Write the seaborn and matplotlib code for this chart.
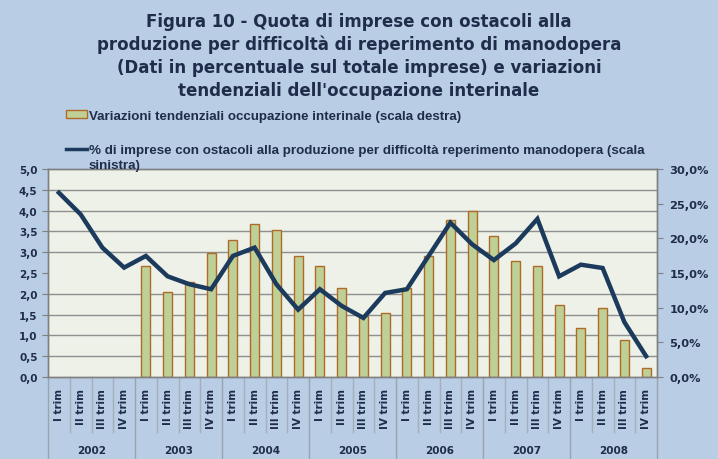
import numpy as np
import pandas as pd
import matplotlib
matplotlib.use("Agg")
import matplotlib.pyplot as plt
import matplotlib.lines as mlines
import matplotlib.patches as mpatches
import seaborn as sns

anni = ['2002', '2003', '2004', '2005', '2006', '2007', '2008']
trimestri = ['I trim', 'II trim', 'III trim', 'IV trim']

# % imprese con ostacoli (scala sinistra), 2002 Q1 -> 2008 Q4
quota_imprese = [4.43, 3.91, 3.11, 2.63,
                 2.91, 2.42, 2.23, 2.11,
                 2.91, 3.11, 2.23, 1.62,
                 2.11, 1.71, 1.42, 2.02,
                 2.11, 2.91, 3.71, 3.19,
                 2.81, 3.21, 3.80, 2.42,
                 2.70, 2.62, 1.32, 0.50]

# variazioni tendenziali occupazione interinale (scala destra), dal 2003 Q1
var_interinale = [16.0, 12.3, 13.7, 17.9,
                  19.7, 22.1, 21.2, 17.4,
                  16.0, 12.8, 8.8, 9.3,
                  12.9, 17.5, 22.6, 23.9,
                  20.4, 16.7, 16.0, 10.4,
                  7.0, 9.9, 5.3, 1.3]

categorie = [a + ' ' + t for a in anni for t in trimestri]
df_barre = pd.DataFrame({'periodo': categorie[4:], 'var': var_interinale})

sfondo = '#B9CDE5'
area = '#EDF1E7'
blu = '#1B3A5C'
testo = '#1F2D4A'

fig = plt.figure(figsize=(7.18, 4.6), dpi=100, facecolor=sfondo)
ax = fig.add_axes([48 / 718, 1 - 378 / 460, (657 - 48) / 718, 208 / 460])
ax2 = ax.twinx()

# barre sulla scala destra, disegnate sotto la linea
ax2.set_zorder(0)
ax.set_zorder(1)
ax.patch.set_visible(False)
ax2.patch.set_visible(True)
ax2.patch.set_facecolor(area)

sns.barplot(data=df_barre, x='periodo', y='var', order=categorie, ax=ax2,
            color='#BFD096', edgecolor='#B06A28', linewidth=1, width=0.42,
            saturation=1, zorder=2)
ax2.set_ylim(0, 30)
ax2.set_yticks(np.arange(0, 31, 5))
ax2.set_yticklabels([f'{v:.1f}%'.replace('.', ',') for v in np.arange(0, 31, 5)])
ax2.set_yticks(np.arange(0, 31, 3), minor=True)
ax2.grid(which='minor', axis='y', color='#8F8F8F', linewidth=1, zorder=0)
ax2.grid(which='major', visible=False)
ax2.tick_params(axis='y', which='minor', length=0)
ax2.set_ylabel('')
ax2.set_xlabel('')

sns.lineplot(x=np.arange(len(quota_imprese)), y=quota_imprese, ax=ax,
             color=blu, linewidth=3.2, solid_joinstyle='miter')
ax.set_ylim(0, 5)
ax.set_yticks(np.arange(0, 5.01, 0.5))
ax.set_yticklabels([f'{v:.1f}'.replace('.', ',') for v in np.arange(0, 5.01, 0.5)])
ax.set_xlim(-0.5, len(categorie) - 0.5)

for a in (ax, ax2):
    for s in a.spines.values():
        s.set_color('#808080')
        s.set_linewidth(1)
    a.tick_params(axis='y', which='major', labelsize=7.5, labelcolor=testo,
                  color='#808080', length=4)
    for lab in a.get_yticklabels():
        lab.set_fontweight('bold')
ax2.tick_params(axis='y', which='major', labelsize=8.2, pad=5)

# etichette asse x: trimestri e anni
ax.set_xticks(np.arange(len(categorie)))
ax.set_xticklabels(trimestri * len(anni), rotation=90, fontsize=7.5,
                   fontweight='bold', color=testo, va='top', ha='center')
ax.tick_params(axis='x', length=0, pad=8)
ax2.tick_params(axis='x', length=0, labelbottom=False)

tr = ax.get_xaxis_transform()
for k in range(len(categorie) + 1):
    fondo = -0.395 if k % 4 == 0 else -0.265
    colore = '#9AA3B0' if k % 4 == 0 else '#A5AEBB'
    ax.add_line(mlines.Line2D([k - 0.5, k - 0.5], [0, fondo], transform=tr,
                              color=colore, linewidth=1, clip_on=False))
for i, anno in enumerate(anni):
    ax.text(i * 4 + 1.5, -0.35, anno, transform=tr, ha='center', va='center',
            fontsize=7.5, fontweight='bold', color=testo)

# titolo
fig.text(0.5, 1 - 13 / 460,
         "Figura 10 - Quota di imprese con ostacoli alla\n"
         "produzione per difficoltà di reperimento di manodopera\n"
         "(Dati in percentuale sul totale imprese) e variazioni\n"
         "tendenziali dell'occupazione interinale",
         ha='center', va='top', fontsize=12, fontweight='bold', color=testo,
         linespacing=1.34, family='DejaVu Sans')

# legenda
patch = mpatches.Patch(facecolor='#BFD096', edgecolor='#B06A28',
                       label='Variazioni tendenziali occupazione interinale (scala destra)')
linea = mlines.Line2D([], [], color=blu, linewidth=2.5,
                      label='% di imprese con ostacoli alla produzione per difficoltà reperimento manodopera (scala')
prop = {'family': 'Liberation Sans', 'weight': 'bold', 'size': 9.6}
fig.legend(handles=[patch], loc='center left', bbox_to_anchor=(66 / 718, 1 - 117 / 460),
           frameon=False, prop=prop, handlelength=1.6, handleheight=0.5, handletextpad=0.1,
           borderaxespad=0, borderpad=0, labelcolor=testo)
fig.legend(handles=[linea], loc='center left', bbox_to_anchor=(66 / 718, 1 - 151 / 460),
           frameon=False, prop=prop, handlelength=1.6, handletextpad=0.1,
           borderaxespad=0, borderpad=0, labelcolor=testo)
fig.text(89 / 718, 1 - 166 / 460, 'sinistra)', ha='left', va='center',
         fontfamily='Liberation Sans', fontweight='bold', fontsize=9.6, color=testo)

fig.savefig('out.png', dpi=100, facecolor=sfondo)
